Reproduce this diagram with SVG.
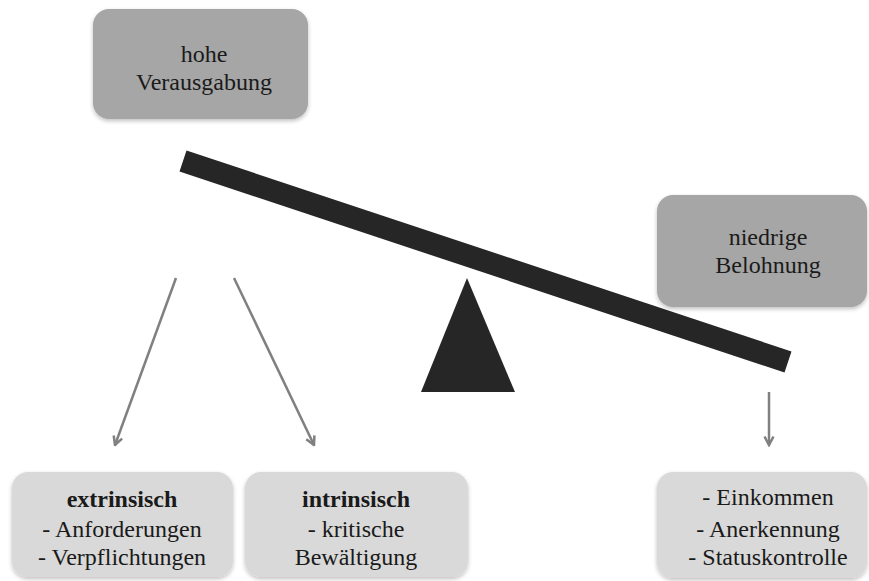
<svg xmlns="http://www.w3.org/2000/svg" width="869" height="581" viewBox="0 0 869 581">
  <style>
    .txt { font-family: 'Liberation Serif', 'DejaVu Serif', serif; font-size: 24px; fill: #1a1a1a; text-anchor: middle; }
    .b { font-weight: bold; }
    .dark { fill: #a6a6a6; }
    .light { fill: #d9d9d9; }
    .conn { stroke: #808080; stroke-width: 2.5; fill: none; marker-end: url(#arr); }
  </style>
  <defs>
    <filter id="sh" x="-10%" y="-10%" width="120%" height="125%">
      <feGaussianBlur in="SourceAlpha" stdDeviation="2"/>
      <feOffset dx="0" dy="2" result="b"/>
      <feComponentTransfer><feFuncA type="linear" slope="0.25"/></feComponentTransfer>
      <feMerge><feMergeNode/><feMergeNode in="SourceGraphic"/></feMerge>
    </filter>
    <marker id="arr" viewBox="0 0 12 12" refX="10.5" refY="6" markerWidth="12" markerHeight="12" orient="auto" markerUnits="userSpaceOnUse">
      <path d="M2,1.5 L10.5,6 L2,10.5" fill="none" stroke="#808080" stroke-width="2.5" stroke-linejoin="miter"/>
    </marker>
  </defs>
  <rect width="869" height="581" fill="#ffffff"/>

  <!-- seesaw: beam and fulcrum -->
  <g id="fulcrum">
    <polygon points="467,278 421,392 515,392" fill="#262626"/>
  </g>
  <g id="beam">
    <polygon points="186.5,150.5 791.5,351.5 784.5,372.5 179.5,171.5" fill="#262626"/>
  </g>

  <g class="txt">
    <g id="hohe-verausgabung">
      <rect x="93" y="9" width="215" height="110" rx="16" class="dark" filter="url(#sh)"/>
      <text x="204" y="62">hohe</text>
      <text x="204" y="90">Verausgabung</text>
    </g>

    <g id="niedrige-belohnung">
      <rect x="657" y="195" width="210" height="112" rx="16" class="dark" filter="url(#sh)"/>
      <text x="768" y="245">niedrige</text>
      <text x="768" y="273">Belohnung</text>
    </g>

    <g id="extrinsisch">
      <rect x="12" y="472" width="221" height="105" rx="16" class="light" filter="url(#sh)"/>
      <text class="b" x="122" y="507">extrinsisch</text>
      <text x="122" y="537">- Anforderungen</text>
      <text x="122" y="565">- Verpflichtungen</text>
    </g>

    <g id="intrinsisch">
      <rect x="245" y="472" width="223" height="105" rx="16" class="light" filter="url(#sh)"/>
      <text class="b" x="356" y="507">intrinsisch</text>
      <text x="356" y="537">- kritische</text>
      <text x="356" y="565">Bewältigung</text>
    </g>

    <g id="belohnungsarten">
      <rect x="657" y="472" width="210" height="106" rx="16" class="light" filter="url(#sh)"/>
      <text x="768" y="505">- Einkommen</text>
      <text x="768" y="537">- Anerkennung</text>
      <text x="768" y="565">- Statuskontrolle</text>
    </g>
  </g>

  <g id="connectors">
    <line class="conn" x1="176" y1="278" x2="115" y2="445"/>
    <line class="conn" x1="234" y1="278" x2="314" y2="445"/>
    <line class="conn" x1="769" y1="392" x2="769" y2="445"/>
  </g>
</svg>
